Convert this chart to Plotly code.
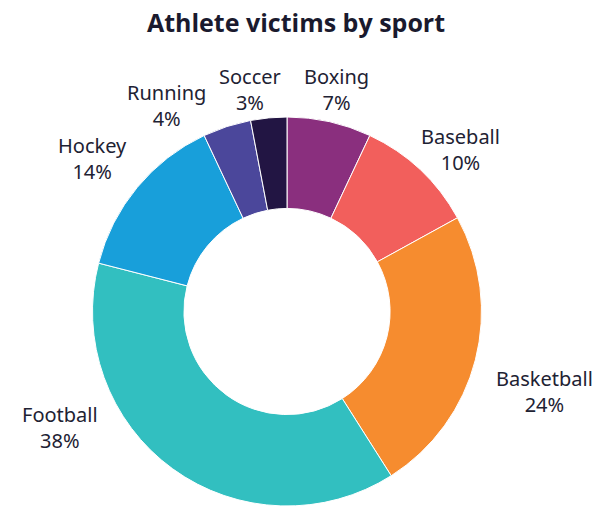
import plotly.graph_objects as go

sports = ["Boxing", "Baseball", "Basketball", "Football", "Hockey", "Running", "Soccer"]
shares = [7, 10, 24, 38, 14, 4, 3]
colors = ["#8A2F7E", "#F25F5C", "#F68C2F", "#32BFC0", "#189FDA", "#4B479B", "#221543"]

# label anchor positions in page pixels (x from left, y from top)
label_pos = {
    "Boxing": (336, 90),
    "Baseball": (460, 149),
    "Basketball": (544, 391),
    "Football": (60, 427),
    "Hockey": (92, 158),
    "Running": (166, 105),
    "Soccer": (250, 90),
}

W, H = 596, 506
CX, CY, R = 287, 313, 196


def fx(px):
    return px / W


def fy(py):
    return 1 - py / H


fig = go.Figure()
fig.add_trace(go.Pie(
    labels=sports, values=shares, hole=0.53, sort=False,
    direction="clockwise", rotation=0,
    marker=dict(colors=colors, line=dict(color="white", width=1)),
    textinfo="none", hoverinfo="label+percent",
    domain=dict(x=[(CX - R) / W, (CX + R) / W], y=[max(0, 1 - (CY + R) / H), 1 - (CY - R) / H]),
    showlegend=False,
))

for s, v in zip(sports, shares):
    px, py = label_pos[s]
    fig.add_annotation(
        x=fx(px), y=fy(py), xref="paper", yref="paper",
        text=f"{s}<br>{v}%", showarrow=False,
        font=dict(family="Noto Sans", size=20, color="#1E2233"),
        xanchor="center", yanchor="middle", align="center",
    )

fig.update_layout(
    width=W, height=H,
    margin=dict(l=0, r=0, t=0, b=0),
    paper_bgcolor="white", plot_bgcolor="white",
    title=dict(text="<b>Athlete victims by sport</b>", x=fx(296), xanchor="center",
               y=fy(23), yanchor="middle",
               font=dict(family="Open Sans", size=25, color="#1A1A2E")),
)

fig.write_html("out.html",
               config={"displayModeBar": False},
               post_script="document.body.style.margin='0';document.body.style.overflow='hidden';")
